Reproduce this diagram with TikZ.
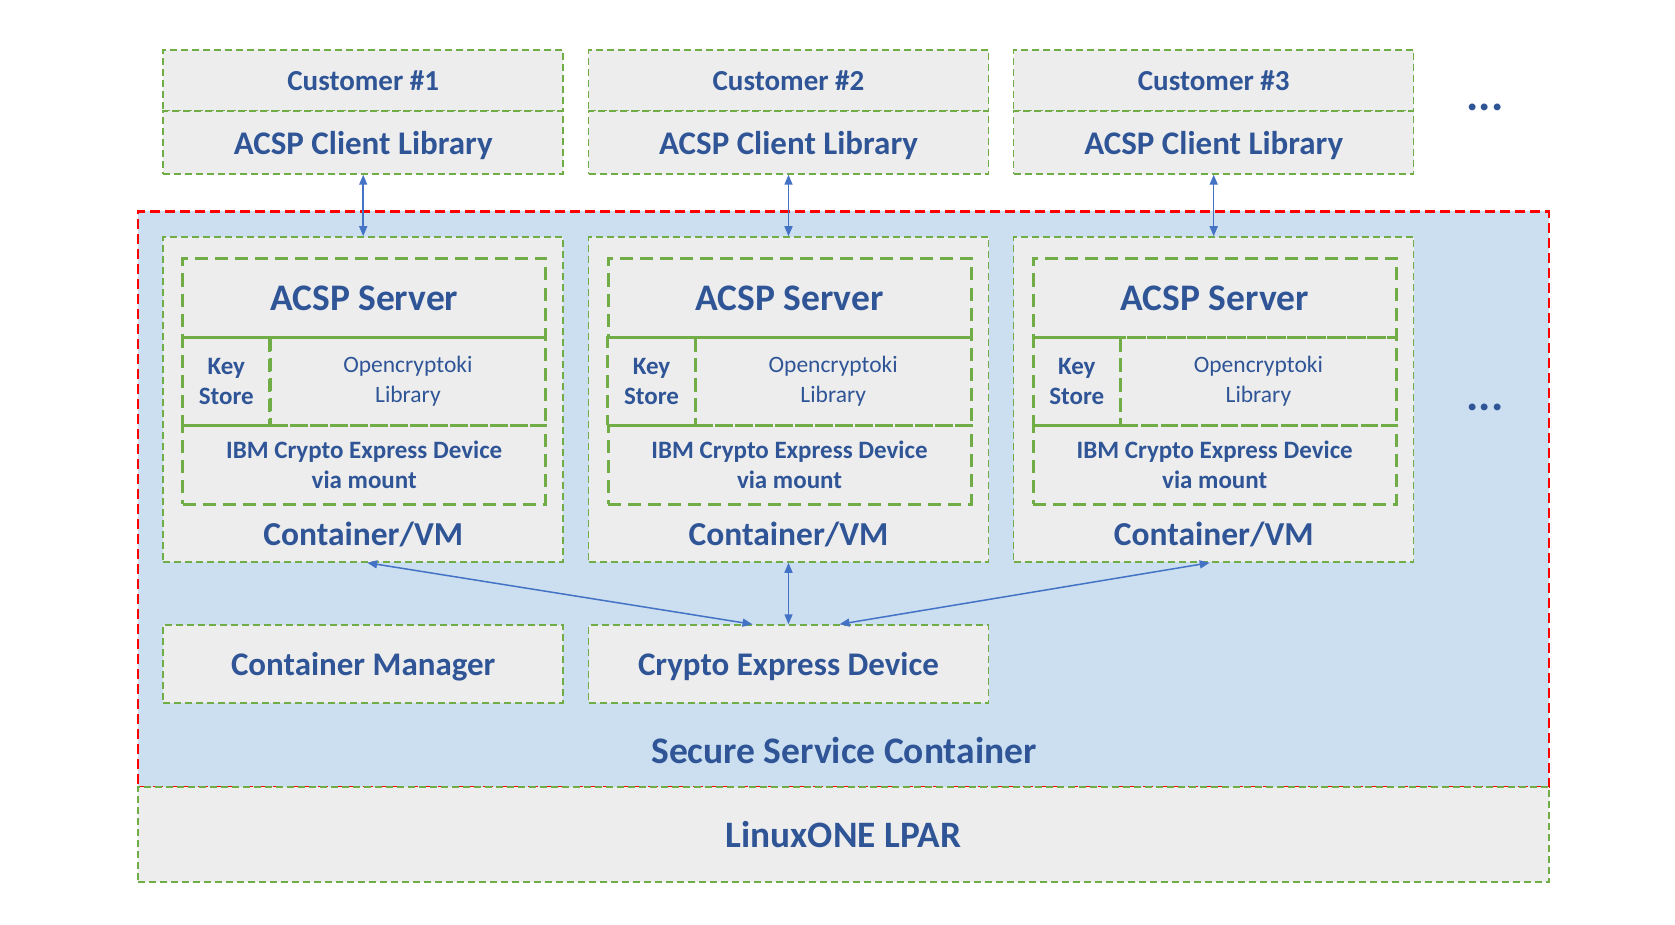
\documentclass[tikz,border=0pt]{standalone}
\usepackage{fontspec}
\setmainfont{Carlito}
\usetikzlibrary{arrows.meta}
\definecolor{txtblue}{HTML}{2F5597}
\definecolor{boxgray}{HTML}{EDEDED}
\definecolor{sscblue}{HTML}{CBDFF1}
\definecolor{dashgreen}{HTML}{70AD47}
\definecolor{arrowblue}{HTML}{4472C4}

\begin{document}
\begin{tikzpicture}[x=1pt,y=-1pt,
    every node/.style = {text=txtblue, inner sep=0pt, align=center},
    box/.style = {draw=dashgreen, fill=boxgray, dash pattern=on 7pt off 4pt,
      line width=1.5pt},
    inbox/.style = {draw=dashgreen, dash pattern=on 13pt off 7pt, line width=3pt},
    nodepth/.style = {text depth=0pt},
    biarrow/.style = {draw=arrowblue, line width=1.5pt,
      {Triangle[length=10pt,width=8pt]}-{Triangle[length=10pt,width=8pt]}}]
    \useasboundingbox (0,0) rectangle (1675,925);
    \fill[white] (0,0) rectangle (1675,925);

    % secure service container and LPAR
    \node[draw=red, fill=sscblue, dash pattern=on 10pt off 5pt, line width=2.5pt,
      minimum width=1411pt, minimum height=575.5pt] (ssc) at (843.4,499.25) {};
    \node[font=\bfseries\fontsize{37.5}{44}\selectfont] (ssclabel) at (844,750) {Secure Service Container};
    \node[box, minimum width=1411pt, minimum height=95pt,
      font=\bfseries\fontsize{37.3}{44}\selectfont] (lpar) at (843.4,834.5) {LinuxONE LPAR};

    % one column per customer
    \foreach \i/\x in {1/363.2,2/788.5,3/1213.7} {
      \node[box, nodepth, minimum width=400pt, minimum height=61pt,
        font=\bfseries\fontsize{29}{34}\selectfont] (cust\i) at (\x,80.5) {Customer \#\i};
      \node[box, nodepth, minimum width=400pt, minimum height=63pt,
        font=\bfseries\fontsize{33}{39}\selectfont] (lib\i) at (\x,142.5) {ACSP Client Library};
      \node[box, minimum width=400pt, minimum height=325pt] (vm\i) at (\x,399.5) {};
      \node[inbox, minimum width=363pt, minimum height=79pt,
        font=\bfseries\fontsize{37.5}{44}\selectfont] (srv\i) at (\x+1,298) {ACSP Server};
      \node[inbox, minimum width=87.3pt, minimum height=87.5pt,
        font=\bfseries\fontsize{25}{30}\selectfont] (key\i) at (\x-136.9,381.25) {Key\\Store};
      \node[inbox, minimum width=275.8pt, minimum height=87.5pt,
        font=\fontsize{23.5}{30}\selectfont] (ock\i) at (\x+44.7,381.25) {Opencryptoki\\Library};
      \node[inbox, minimum width=363pt, minimum height=79pt,
        font=\bfseries\fontsize{25}{30}\selectfont] (ibm\i) at (\x+1,464.5) {IBM Crypto Express Device\\via mount};
      \node[nodepth, font=\bfseries\fontsize{33.5}{40}\selectfont] (vmlabel\i) at (\x,534) {Container/VM};
      \draw[biarrow] (lib\i.south) -- (vm\i.north);
    }

    \node[box, nodepth, minimum width=400pt, minimum height=78pt,
      font=\bfseries\fontsize{33}{39}\selectfont] (cman) at (363.2,664) {Container Manager};
    \node[box, nodepth, minimum width=400pt, minimum height=78pt,
      font=\bfseries\fontsize{33}{39}\selectfont] (ced) at (788.5,664) {Crypto Express Device};

    \draw[biarrow] ([xshift=4pt]vm1.south) -- ([xshift=-36pt]ced.north);
    \draw[biarrow] (vm2.south) -- (ced.north);
    \draw[biarrow] ([xshift=-4pt]vm3.south) -- ([xshift=51pt]ced.north);

    % more customers
    \node[font=\bfseries\fontsize{46}{50}\selectfont] (moretop) at (1485,107) {...};
    \node[font=\bfseries\fontsize{46}{50}\selectfont] (moremid) at (1485,407) {...};
\end{tikzpicture}
\end{document}
